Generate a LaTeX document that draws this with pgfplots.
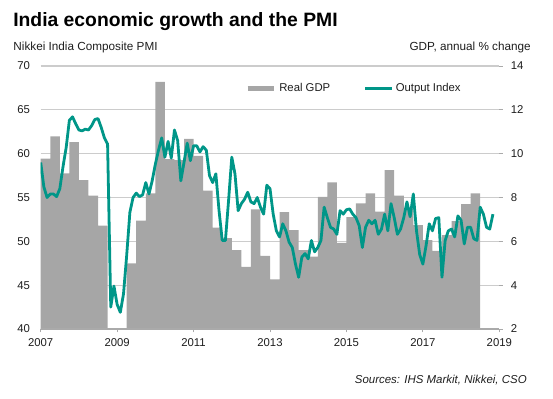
\documentclass[border=0pt]{standalone}
\usepackage{fontspec}
\setmainfont{Liberation Sans}
\usepackage{pgfplots}
\usepackage{pgfplotstable}
\pgfplotsset{compat=1.18}
\definecolor{gdpgray}{RGB}{166,166,166}
\definecolor{pmiteal}{RGB}{0,150,136}
\definecolor{gridgray}{RGB}{204,204,204}
\definecolor{axgray}{RGB}{170,170,170}
\definecolor{txt}{RGB}{30,30,30}
% Real GDP, annual % change, quarterly (x = months since Jan 2007)
\pgfplotstableread{
m gdp
0 9.77
3 10.79
6 9.10
9 10.53
12 8.79
15 8.08
18 6.72
21 1.0
24 1.0
27 4.99
30 6.94
33 8.19
36 13.27
39 9.75
42 9.70
45 10.68
48 9.90
51 8.31
54 6.63
57 6.15
60 5.60
63 4.84
66 7.46
69 5.34
72 4.26
75 7.33
78 6.51
81 5.60
84 5.30
87 8.03
90 8.69
93 5.93
96 7.10
99 7.73
102 8.19
105 7.35
108 9.25
111 8.08
114 7.50
117 6.74
120 6.05
123 5.57
126 6.28
129 6.92
132 7.70
135 8.19
138 8.19
}\gdptable
% Nikkei India Composite PMI Output Index, monthly
\pgfplotstableread{
m pmi
0 59.0
1 56.2
2 55.0
3 55.4
4 55.4
5 55.1
6 56.0
7 58.5
8 60.7
9 63.8
10 64.2
11 63.4
12 62.7
13 62.6
14 62.8
15 62.7
16 63.2
17 63.9
18 64.0
19 63.0
20 61.8
21 61.1
22 42.5
23 44.9
24 42.8
25 41.9
26 44.0
27 48.4
28 53.3
29 55.0
30 55.5
31 55.1
32 55.3
33 56.7
34 55.4
35 56.9
36 58.8
37 60.4
38 61.8
39 59.6
40 61.4
41 59.5
42 62.7
43 61.5
44 56.9
45 59.0
46 61.2
47 59.2
48 60.9
49 60.9
50 60.2
51 60.8
52 60.4
53 57.5
54 56.7
55 57.7
56 53.5
57 50.1
58 50.1
59 54.7
60 59.6
61 57.7
62 53.5
63 54.3
64 54.8
65 55.6
66 54.5
67 54.3
68 55.0
69 53.9
70 53.1
71 56.4
72 56.0
73 53.1
74 51.2
75 50.5
76 52.0
77 51.2
78 49.9
79 49.3
80 47.4
81 45.9
82 48.2
83 48.6
84 48.0
85 50.1
86 48.8
87 49.3
88 50.1
89 53.9
90 52.7
91 51.6
92 51.4
93 50.8
94 53.5
95 53.1
96 53.6
97 53.7
98 53.1
99 52.7
100 51.8
101 49.3
102 51.6
103 52.4
104 52.0
105 52.4
106 50.8
107 51.4
108 53.1
109 51.2
110 54.3
111 52.7
112 50.8
113 51.4
114 52.7
115 54.5
116 52.8
117 55.4
118 51.2
119 48.5
120 47.4
121 49.5
122 52.0
123 51.2
124 52.6
125 52.7
126 45.9
127 50.1
128 51.2
129 51.4
130 50.5
131 52.9
132 52.4
133 49.7
134 51.6
135 51.6
136 50.3
137 50.1
138 53.9
139 53.1
140 51.6
141 51.4
142 53.1
}\pmitable
\begin{document}
\begin{tikzpicture}
\useasboundingbox (-30.525pt,-52.5pt) rectangle (384.225pt,246.75pt);
\pgfplotsset{
  base/.style={
    scale only axis, width=343.95pt, height=197.25pt,
    xmin=0, xmax=144,
    ticklabel style={font=\fontsize{8.5}{10}\selectfont, text=txt},
    /pgf/number format/assume math mode=true,
    tick align=outside, major tick length=2.5pt,
  }
}
\begin{axis}[base,
  ymin=2, ymax=14, ytick={2,4,...,14},
  hide x axis,
  axis y line*=right,
  y axis line style={draw=none},
  ytick style={axgray, line width=0.6pt},
  ymajorgrids, grid style={gridgray, line width=0.8pt},
  yticklabel style={xshift=2.7pt},
]
\addplot[ybar interval, fill=gdpgray, draw=none] table[x=m,y=gdp]{\gdptable};
\end{axis}
\begin{axis}[base,
  ymin=40, ymax=70, ytick={40,45,...,70},
  axis x line*=bottom, axis y line*=left,
  y axis line style={draw=none},
  x axis line style={axgray, line width=0.8pt},
  xtick={0,24,...,144}, xticklabels={2007,2009,2011,2013,2015,2017,2019},
  xtick style={axgray, line width=0.6pt},
  ytick style={draw=none},
  yticklabel style={xshift=-2pt},
  xticklabel style={yshift=-1.5pt},
  legend image code/.code={\draw[#1] (0pt,0pt) -- (20pt,0pt);},
  legend style={at={(0.4455,0.915)}, anchor=west, inner sep=0pt, draw=none, fill=none,
    legend columns=2, font=\fontsize{8.5}{10}\selectfont, text=txt,
    /tikz/every even column/.append style={column sep=23pt}},
]
\addlegendimage{gdpgray, line width=3.5pt}
\addlegendentry{Real GDP}
\addplot[pmiteal, line width=2.1pt, line join=round] table[x=m,y=pmi]{\pmitable};
\addlegendentry{Output Index}
\end{axis}
\node[anchor=base west, inner sep=0pt, font=\fontsize{14.5}{16}\selectfont\bfseries] at (-20.775pt,226.5pt) {India economic growth and the PMI};
\node[anchor=base west, inner sep=0pt, font=\fontsize{8.8}{10}\selectfont, text=txt] at (-20.6pt,208.5pt) {Nikkei India Composite PMI};
\node[anchor=base east, inner sep=0pt, font=\fontsize{8.8}{10}\selectfont, text=txt] at (367.7pt,208.5pt) {GDP, annual \% change};
\node[anchor=base east, inner sep=0pt, font=\fontsize{8.6}{10}\selectfont\itshape, text=txt] at (364.7pt,-41.25pt) {Sources: IHS Markit, Nikkei, CSO};
\end{tikzpicture}
\end{document}
